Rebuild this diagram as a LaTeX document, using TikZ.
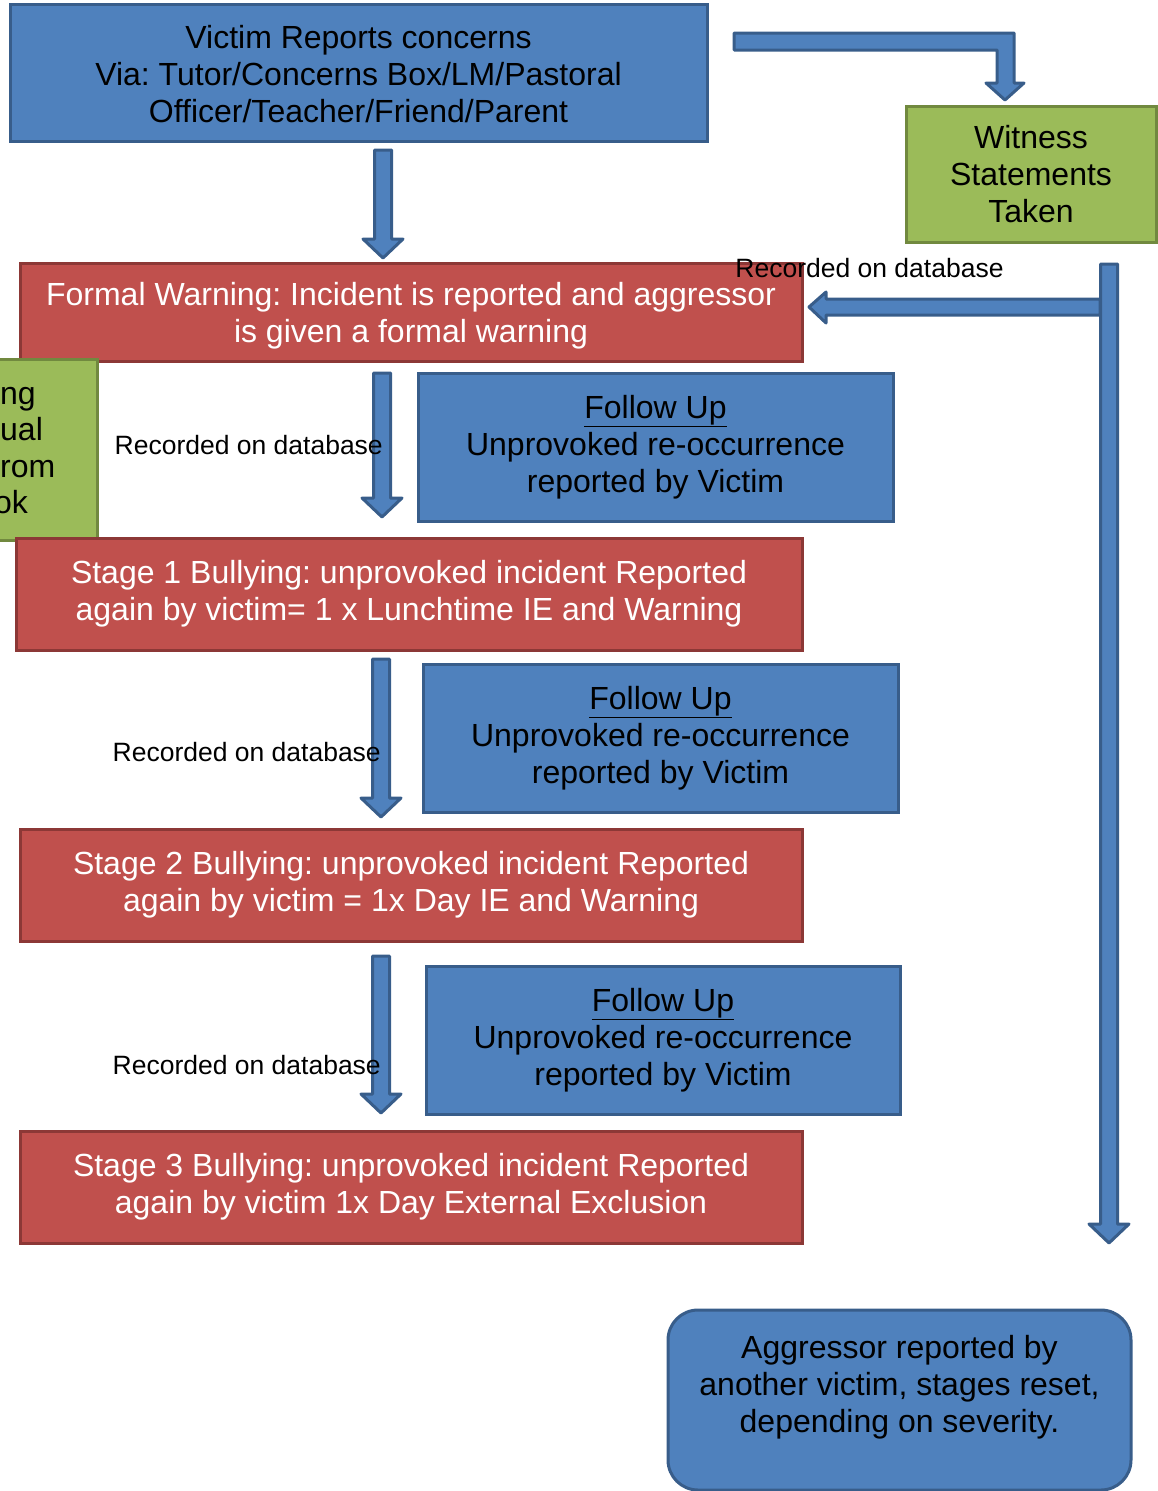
\documentclass[tikz,border=0pt]{standalone}
\usepackage{fontspec}
\setmainfont{Liberation Sans}
\frenchspacing
\usetikzlibrary{calc}
\definecolor{bfill}{HTML}{4F81BD}
\definecolor{bline}{HTML}{385D8A}
\definecolor{rfill}{HTML}{C0504D}
\definecolor{rline}{HTML}{8C3836}
\definecolor{gfill}{HTML}{9BBB59}
\definecolor{gline}{HTML}{71893F}
\tikzset{
  box/.style={draw, line width=3pt, inner sep=0pt, align=center, font=\fontsize{32}{37}\selectfont},
  bluebox/.style={box, fill=bfill, draw=bline, text=black},
  redbox/.style={box, fill=rfill, draw=rline, text=white},
  greenbox/.style={box, fill=gfill, draw=gline, text=black},
  bigtxt/.style={inner sep=0pt, align=center, font=\fontsize{32}{37}\selectfont},
  lbl/.style={inner sep=0pt, font=\fontsize{26.5}{30}\selectfont},
  barrow/.style={fill=bfill, draw=bline, line width=3pt, line join=round}
}
\newcommand\blkdown[2]{%
  \draw[barrow] let \p1=(#1), \p2=(#2) in
    (\x1-8.5pt,\y1) -- (\x1+8.5pt,\y1) -- (\x1+8.5pt,\y2+19pt) -- (\x1+20pt,\y2+19pt)
    -- (\x1,\y2) -- (\x1-20pt,\y2+19pt) -- (\x1-8.5pt,\y2+19pt) -- cycle;}
\begin{document}
\begin{tikzpicture}[x=1pt,y=-1pt]
\useasboundingbox (0,0) rectangle (1158,1491);

% boxes
\node[bluebox, minimum width=697, minimum height=137] (victim) at (358.5,72.5) {};
\node[bigtxt] (victimtext) at ($(victim.center)+(0,1.5)$)
  {Victim Reports concerns\\Via: Tutor/Concerns Box/LM/Pastoral\\Officer/Teacher/Friend/Parent};
\node[greenbox, minimum width=250, minimum height=136] (witness) at (1031,174)
  {Witness\\Statements\\Taken};
\node[redbox, minimum width=782, minimum height=98] (formal) at (411,312) {};
\node[bigtxt, text=white] (formaltext) at ($(formal.center)+(0,4)$)
  {Formal Warning: Incident is reported and aggressor\\is given a formal warning};
\node[greenbox, minimum width=247, minimum height=181] (leftbox) at (-26.5,449.5) {};
\node[bigtxt, anchor=base west] (lt1) at (0,404.5) {ng};
\node[bigtxt, anchor=base west] (lt2) at (0,440.5) {ual};
\node[bigtxt, anchor=base west] (lt3) at (0,477.5) {rom};
\node[bigtxt, anchor=base west] (lt4) at (-6,513.5) {ok};

\node[bluebox, minimum width=475, minimum height=148] (follow1) at (655.5,447)
  {\underline{Follow Up}\\Unprovoked re-occurrence\\reported by Victim};
\node[redbox, minimum width=786, minimum height=112] (stage1) at (409,594)
  {Stage 1 Bullying: unprovoked incident Reported\\again by victim= 1 x Lunchtime IE and Warning};
\node[bluebox, minimum width=475, minimum height=148] (follow2) at (660.5,738)
  {\underline{Follow Up}\\Unprovoked re-occurrence\\reported by Victim};
\node[redbox, minimum width=782, minimum height=112] (stage2) at (411,885)
  {Stage 2 Bullying: unprovoked incident Reported\\again by victim = 1x Day IE and Warning};
\node[bluebox, minimum width=474, minimum height=148] (follow3) at (663,1040)
  {\underline{Follow Up}\\Unprovoked re-occurrence\\reported by Victim};
\node[redbox, minimum width=782, minimum height=112] (stage3) at (411,1187)
  {Stage 3 Bullying: unprovoked incident Reported\\again by victim 1x Day External Exclusion};
\node[bluebox, rounded corners=30pt, minimum width=463, minimum height=180] (aggr) at (899.5,1400) {};
\node[bigtxt] (aggrtext) at ($(aggr.center)+(0,-13)$)
  {Aggressor reported by\\another victim, stages reset,\\depending on severity.};

% arrow coordinates
\coordinate (a1s) at (383,150);  \coordinate (a1e) at (383,258);
\coordinate (a2s) at (382,373);  \coordinate (a2e) at (382,517);
\coordinate (a3s) at (381,659);  \coordinate (a3e) at (381,817);
\coordinate (a4s) at (381,956);  \coordinate (a4e) at (381,1113);
\coordinate (rvs) at (1109,264); \coordinate (rve) at (1109,1243);

\blkdown{a1s}{a1e}
\blkdown{a2s}{a2e}
\blkdown{a3s}{a3e}
\blkdown{a4s}{a4e}

% bent arrow to witness
\draw[barrow] (734,33) -- (1014,33) -- (1014,83) -- (1024,83) -- (1005,100)
  -- (986,83) -- (997,83) -- (997,50) -- (734,50) -- cycle;

% left arrow to formal warning
\draw[barrow] (1100,299) -- (826,299) -- (826,292) -- (809,307) -- (826,323)
  -- (826,315) -- (1100,315) -- cycle;
% right vertical arrow
\blkdown{rvs}{rve}

% labels
\node[lbl] (l1) at (869.5,268) {Recorded on database};
\node[lbl, anchor=east] (l2) at (383,445) {Recorded on database};
\node[lbl, anchor=east] (l3) at (381,752) {Recorded on database};
\node[lbl, anchor=east] (l4) at (381,1065) {Recorded on database};
\end{tikzpicture}
\end{document}
